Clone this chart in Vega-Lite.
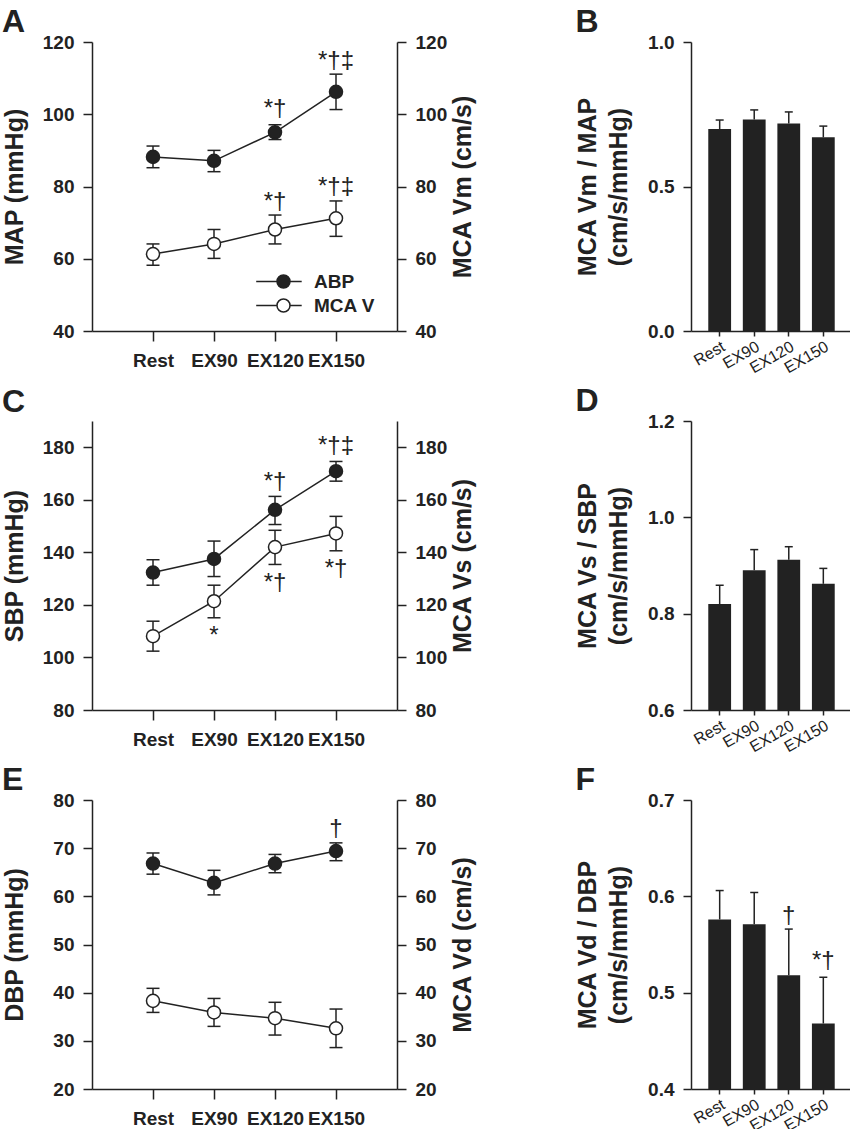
{
  "$schema": "https://vega.github.io/schema/vega-lite/v6.json",
  "padding": {"left": 2, "top": 6, "right": 0, "bottom": 0},
  "config": {
    "font": "Liberation Sans",
    "view": {"stroke": null},
    "axis": {
      "domainColor": "#222", "domainWidth": 1.5, "tickColor": "#222", "tickWidth": 1.5, "tickSize": 9,
      "labelFont": "Liberation Sans", "labelFontSize": 19, "labelFontWeight": "bold", "labelColor": "#222", "labelPadding": 9,
      "titleFont": "Liberation Sans", "titleFontSize": 25, "titleFontWeight": "bold", "titleColor": "#222",
      "grid": false
    },
    "title": {"anchor": "start", "frame": "bounds", "fontSize": 32, "fontWeight": "bold", "color": "#222", "font": "Liberation Sans", "offset": -6}
  },
  "datasets": {
    "lines": [
      {"panel": "A", "series": "ABP", "cond": "Rest", "mean": 88.2, "lo": 85.2, "hi": 91.2},
      {"panel": "A", "series": "ABP", "cond": "EX90", "mean": 87.1, "lo": 84.1, "hi": 90.0},
      {"panel": "A", "series": "ABP", "cond": "EX120", "mean": 95.0, "lo": 93.0, "hi": 97.1},
      {"panel": "A", "series": "ABP", "cond": "EX150", "mean": 106.2, "lo": 101.3, "hi": 111.1},
      {"panel": "A", "series": "MCA V", "cond": "Rest", "mean": 61.3, "lo": 58.2, "hi": 64.1},
      {"panel": "A", "series": "MCA V", "cond": "EX90", "mean": 64.1, "lo": 60.1, "hi": 68.1},
      {"panel": "A", "series": "MCA V", "cond": "EX120", "mean": 68.1, "lo": 64.1, "hi": 72.1},
      {"panel": "A", "series": "MCA V", "cond": "EX150", "mean": 71.2, "lo": 66.2, "hi": 76.0},
      {"panel": "C", "series": "ABP", "cond": "Rest", "mean": 132.3, "lo": 127.5, "hi": 137.2},
      {"panel": "C", "series": "ABP", "cond": "EX90", "mean": 137.5, "lo": 130.8, "hi": 144.3},
      {"panel": "C", "series": "ABP", "cond": "EX120", "mean": 156.2, "lo": 150.6, "hi": 161.3},
      {"panel": "C", "series": "ABP", "cond": "EX150", "mean": 170.9, "lo": 167.1, "hi": 174.6},
      {"panel": "C", "series": "MCA V", "cond": "Rest", "mean": 108.1, "lo": 102.4, "hi": 113.8},
      {"panel": "C", "series": "MCA V", "cond": "EX90", "mean": 121.4, "lo": 115.1, "hi": 127.5},
      {"panel": "C", "series": "MCA V", "cond": "EX120", "mean": 142.0, "lo": 135.4, "hi": 148.4},
      {"panel": "C", "series": "MCA V", "cond": "EX150", "mean": 147.2, "lo": 140.6, "hi": 153.7},
      {"panel": "E", "series": "ABP", "cond": "Rest", "mean": 66.8, "lo": 64.6, "hi": 69.0},
      {"panel": "E", "series": "ABP", "cond": "EX90", "mean": 62.8, "lo": 60.3, "hi": 65.4},
      {"panel": "E", "series": "ABP", "cond": "EX120", "mean": 66.8, "lo": 64.9, "hi": 68.7},
      {"panel": "E", "series": "ABP", "cond": "EX150", "mean": 69.4, "lo": 67.4, "hi": 71.1},
      {"panel": "E", "series": "MCA V", "cond": "Rest", "mean": 38.3, "lo": 35.9, "hi": 40.9},
      {"panel": "E", "series": "MCA V", "cond": "EX90", "mean": 35.9, "lo": 33.0, "hi": 38.8},
      {"panel": "E", "series": "MCA V", "cond": "EX120", "mean": 34.7, "lo": 31.2, "hi": 38.0},
      {"panel": "E", "series": "MCA V", "cond": "EX150", "mean": 32.6, "lo": 28.6, "hi": 36.6}
    ],
    "bars": [
      {"panel": "B", "cond": "Rest", "mean": 0.699, "hi": 0.730},
      {"panel": "B", "cond": "EX90", "mean": 0.732, "hi": 0.765},
      {"panel": "B", "cond": "EX120", "mean": 0.718, "hi": 0.758},
      {"panel": "B", "cond": "EX150", "mean": 0.670, "hi": 0.709},
      {"panel": "D", "cond": "Rest", "mean": 0.820, "hi": 0.859},
      {"panel": "D", "cond": "EX90", "mean": 0.890, "hi": 0.933},
      {"panel": "D", "cond": "EX120", "mean": 0.912, "hi": 0.939},
      {"panel": "D", "cond": "EX150", "mean": 0.862, "hi": 0.894},
      {"panel": "F", "cond": "Rest", "mean": 0.576, "hi": 0.606},
      {"panel": "F", "cond": "EX90", "mean": 0.571, "hi": 0.604},
      {"panel": "F", "cond": "EX120", "mean": 0.518, "hi": 0.566},
      {"panel": "F", "cond": "EX150", "mean": 0.468, "hi": 0.516}
    ],
    "ann": [
      {"panel": "A", "series": "ABP", "cond": "EX120", "y": 101.4, "label": "*†"},
      {"panel": "A", "series": "ABP", "cond": "EX150", "y": 114.7, "label": "*†‡"},
      {"panel": "A", "series": "MCA V", "cond": "EX120", "y": 75.8, "label": "*†"},
      {"panel": "A", "series": "MCA V", "cond": "EX150", "y": 79.9, "label": "*†‡"},
      {"panel": "C", "series": "ABP", "cond": "EX120", "y": 166.7, "label": "*†"},
      {"panel": "C", "series": "ABP", "cond": "EX150", "y": 180.4, "label": "*†‡"},
      {"panel": "C", "series": "MCA V", "cond": "EX90", "y": 108.0, "label": "*"},
      {"panel": "C", "series": "MCA V", "cond": "EX120", "y": 128.5, "label": "*†"},
      {"panel": "C", "series": "MCA V", "cond": "EX150", "y": 133.5, "label": "*†"},
      {"panel": "E", "series": "ABP", "cond": "EX150", "y": 74.0, "label": "†"},
      {"panel": "F", "series": "bar", "cond": "EX120", "y": 0.580, "label": "†"},
      {"panel": "F", "series": "bar", "cond": "EX150", "y": 0.533, "label": "*†"}
    ]
  },
  "columns": 2,
  "spacing": {"row": 9, "column": 100},
  "resolve": {"scale": {"x": "independent", "y": "independent", "fill": "independent"}, "legend": {"fill": "independent"}},
  "concat": [
    {
      "width": 305, "height": 289,
      "title": {"text": "A"},
      "encoding": {"x": {"field": "cond", "type": "ordinal", "sort": ["Rest", "EX90", "EX120", "EX150"], "scale": {"type": "point", "padding": 1}, "axis": {"title": null, "labelAngle": 0, "tickSize": 10, "labelPadding": 10}}},
      "layer": [
        {"layer": [
          {"data": {"name": "lines"}, "transform": [{"filter": "datum.panel === 'A' && datum.series === 'ABP'"}],
           "mark": {"type": "rule", "color": "#222", "strokeWidth": 1.5},
           "encoding": {"y": {"field": "lo", "type": "quantitative", "title": "MAP (mmHg)", "scale": {"domain": [40, 120], "nice": false, "zero": false}, "axis": {"values": [40, 60, 80, 100, 120], "minExtent": 52, "titlePadding": 13}}, "y2": {"field": "hi"}}},
          {"data": {"name": "lines"}, "transform": [{"filter": "datum.panel === 'A' && datum.series === 'ABP'"}],
           "mark": {"type": "tick", "orient": "horizontal", "size": 13, "thickness": 1.5, "color": "#222", "opacity": 1},
           "encoding": {"y": {"field": "lo", "type": "quantitative", "title": "MAP (mmHg)"}}},
          {"data": {"name": "lines"}, "transform": [{"filter": "datum.panel === 'A' && datum.series === 'ABP'"}],
           "mark": {"type": "tick", "orient": "horizontal", "size": 13, "thickness": 1.5, "color": "#222", "opacity": 1},
           "encoding": {"y": {"field": "hi", "type": "quantitative", "title": "MAP (mmHg)"}}},
          {"data": {"name": "lines"}, "transform": [{"filter": "datum.panel === 'A' && datum.series === 'ABP'"}],
           "mark": {"type": "line", "color": "#222", "strokeWidth": 1.5},
           "encoding": {"y": {"field": "mean", "type": "quantitative", "title": "MAP (mmHg)"}, "order": {"value": null}}},
          {"data": {"name": "lines"}, "transform": [{"filter": "datum.panel === 'A' && datum.series === 'ABP'"}],
           "mark": {"type": "circle", "size": 170, "stroke": "#222", "strokeWidth": 1.5, "opacity": 1},
           "encoding": {"y": {"field": "mean", "type": "quantitative", "title": "MAP (mmHg)"},
             "fill": {"field": "series", "type": "nominal", "scale": {"domain": ["ABP", "MCA V"], "range": ["#222222", "#ffffff"]},
               "legend": {"title": null, "orient": "none", "legendX": 182, "legendY": 230, "symbolType": "M-4.2,0L-1,0M1,0L2.8,0M1,0A1,1,0,1,1,-1,0A1,1,0,1,1,1,0Z", "symbolSize": 169, "symbolStrokeColor": "#222", "symbolStrokeWidth": 1.5, "labelFont": "Liberation Sans", "labelFontSize": 19, "labelFontWeight": "bold", "labelColor": "#222", "labelOffset": 21, "rowPadding": 4}}}},
          {"data": {"name": "ann"}, "transform": [{"filter": "datum.panel === 'A' && datum.series === 'ABP'"}],
           "mark": {"type": "text", "fontSize": 24, "baseline": "middle", "align": "center", "color": "#222"},
           "encoding": {"y": {"field": "y", "type": "quantitative", "title": "MAP (mmHg)"}, "text": {"field": "label"}}}
        ]},
        {"layer": [
          {"data": {"name": "lines"}, "transform": [{"filter": "datum.panel === 'A' && datum.series === 'MCA V'"}],
           "mark": {"type": "rule", "color": "#222", "strokeWidth": 1.5},
           "encoding": {"y": {"field": "lo", "type": "quantitative", "title": "MCA Vm (cm/s)", "scale": {"domain": [40, 120], "nice": false, "zero": false}, "axis": {"orient": "right", "values": [40, 60, 80, 100, 120], "minExtent": 52, "titlePadding": 1, "titleAngle": 270, "titleBaseline": "top"}}, "y2": {"field": "hi"}}},
          {"data": {"name": "lines"}, "transform": [{"filter": "datum.panel === 'A' && datum.series === 'MCA V'"}],
           "mark": {"type": "tick", "orient": "horizontal", "size": 13, "thickness": 1.5, "color": "#222", "opacity": 1},
           "encoding": {"y": {"field": "lo", "type": "quantitative", "title": "MCA Vm (cm/s)"}}},
          {"data": {"name": "lines"}, "transform": [{"filter": "datum.panel === 'A' && datum.series === 'MCA V'"}],
           "mark": {"type": "tick", "orient": "horizontal", "size": 13, "thickness": 1.5, "color": "#222", "opacity": 1},
           "encoding": {"y": {"field": "hi", "type": "quantitative", "title": "MCA Vm (cm/s)"}}},
          {"data": {"name": "lines"}, "transform": [{"filter": "datum.panel === 'A' && datum.series === 'MCA V'"}],
           "mark": {"type": "line", "color": "#222", "strokeWidth": 1.5},
           "encoding": {"y": {"field": "mean", "type": "quantitative", "title": "MCA Vm (cm/s)"}, "order": {"value": null}}},
          {"data": {"name": "lines"}, "transform": [{"filter": "datum.panel === 'A' && datum.series === 'MCA V'"}],
           "mark": {"type": "circle", "size": 170, "stroke": "#222", "strokeWidth": 1.5, "opacity": 1},
           "encoding": {"y": {"field": "mean", "type": "quantitative", "title": "MCA Vm (cm/s)"},
             "fill": {"field": "series", "type": "nominal", "scale": {"domain": ["ABP", "MCA V"], "range": ["#222222", "#ffffff"]}}}},
          {"data": {"name": "ann"}, "transform": [{"filter": "datum.panel === 'A' && datum.series === 'MCA V'"}],
           "mark": {"type": "text", "fontSize": 24, "baseline": "middle", "align": "center", "color": "#222"},
           "encoding": {"y": {"field": "y", "type": "quantitative", "title": "MCA Vm (cm/s)"}, "text": {"field": "label"}}}
        ]}
      ],
      "resolve": {"scale": {"y": "independent"}}
    },
    {
      "width": 161, "height": 289,
      "title": {"text": "B"},
      "data": {"name": "bars"},
      "transform": [{"filter": "datum.panel === 'B'"}],
      "encoding": {"x": {"field": "cond", "type": "ordinal", "sort": ["Rest", "EX90", "EX120", "EX150"], "scale": {"paddingInner": 0.34, "paddingOuter": 0.5}, "axis": {"title": null, "labelAngle": -30, "labelAlign": "right", "labelBaseline": "top", "labelFontWeight": "normal", "labelFontSize": 16, "tickSize": 5, "labelPadding": 2}}},
      "layer": [
        {"mark": {"type": "rule", "color": "#222", "strokeWidth": 1.5},
         "encoding": {"y": {"field": "mean", "type": "quantitative", "title": ["MCA Vm / MAP", "(cm/s/mmHg)"], "scale": {"domain": [0, 1], "nice": false, "zero": false}, "axis": {"titleLineHeight": 31, "values": [0, 0.5, 1], "format": ".1f", "minExtent": 42, "titlePadding": 16, "tickSize": 8}}, "y2": {"field": "hi"}}},
        {"mark": {"type": "tick", "orient": "horizontal", "size": 8, "thickness": 1.5, "color": "#222", "opacity": 1},
         "encoding": {"y": {"field": "hi", "type": "quantitative", "title": ["MCA Vm / MAP", "(cm/s/mmHg)"]}}},
        {"mark": {"type": "bar", "color": "#222", "clip": true},
         "encoding": {"y": {"field": "mean", "type": "quantitative", "title": ["MCA Vm / MAP", "(cm/s/mmHg)"]}}}
      ]
    },
    {
      "width": 305, "height": 289,
      "title": {"text": "C", "offset": 2},
      "encoding": {"x": {"field": "cond", "type": "ordinal", "sort": ["Rest", "EX90", "EX120", "EX150"], "scale": {"type": "point", "padding": 1}, "axis": {"title": null, "labelAngle": 0, "tickSize": 10, "labelPadding": 10}}},
      "layer": [
        {"layer": [
          {"data": {"name": "lines"}, "transform": [{"filter": "datum.panel === 'C' && datum.series === 'ABP'"}],
           "mark": {"type": "rule", "color": "#222", "strokeWidth": 1.5},
           "encoding": {"y": {"field": "lo", "type": "quantitative", "title": "SBP (mmHg)", "scale": {"domain": [80, 190], "nice": false, "zero": false}, "axis": {"values": [80, 100, 120, 140, 160, 180], "minExtent": 52, "titlePadding": 13}}, "y2": {"field": "hi"}}},
          {"data": {"name": "lines"}, "transform": [{"filter": "datum.panel === 'C' && datum.series === 'ABP'"}],
           "mark": {"type": "tick", "orient": "horizontal", "size": 13, "thickness": 1.5, "color": "#222", "opacity": 1},
           "encoding": {"y": {"field": "lo", "type": "quantitative", "title": "SBP (mmHg)"}}},
          {"data": {"name": "lines"}, "transform": [{"filter": "datum.panel === 'C' && datum.series === 'ABP'"}],
           "mark": {"type": "tick", "orient": "horizontal", "size": 13, "thickness": 1.5, "color": "#222", "opacity": 1},
           "encoding": {"y": {"field": "hi", "type": "quantitative", "title": "SBP (mmHg)"}}},
          {"data": {"name": "lines"}, "transform": [{"filter": "datum.panel === 'C' && datum.series === 'ABP'"}],
           "mark": {"type": "line", "color": "#222", "strokeWidth": 1.5},
           "encoding": {"y": {"field": "mean", "type": "quantitative", "title": "SBP (mmHg)"}, "order": {"value": null}}},
          {"data": {"name": "lines"}, "transform": [{"filter": "datum.panel === 'C' && datum.series === 'ABP'"}],
           "mark": {"type": "circle", "size": 170, "stroke": "#222", "strokeWidth": 1.5, "opacity": 1},
           "encoding": {"y": {"field": "mean", "type": "quantitative", "title": "SBP (mmHg)"},
             "fill": {"field": "series", "type": "nominal", "scale": {"domain": ["ABP", "MCA V"], "range": ["#222222", "#ffffff"]}, "legend": null}}},
          {"data": {"name": "ann"}, "transform": [{"filter": "datum.panel === 'C' && datum.series === 'ABP'"}],
           "mark": {"type": "text", "fontSize": 24, "baseline": "middle", "align": "center", "color": "#222"},
           "encoding": {"y": {"field": "y", "type": "quantitative", "title": "SBP (mmHg)"}, "text": {"field": "label"}}}
        ]},
        {"layer": [
          {"data": {"name": "lines"}, "transform": [{"filter": "datum.panel === 'C' && datum.series === 'MCA V'"}],
           "mark": {"type": "rule", "color": "#222", "strokeWidth": 1.5},
           "encoding": {"y": {"field": "lo", "type": "quantitative", "title": "MCA Vs (cm/s)", "scale": {"domain": [80, 190], "nice": false, "zero": false}, "axis": {"orient": "right", "values": [80, 100, 120, 140, 160, 180], "minExtent": 52, "titlePadding": 1, "titleAngle": 270, "titleBaseline": "top"}}, "y2": {"field": "hi"}}},
          {"data": {"name": "lines"}, "transform": [{"filter": "datum.panel === 'C' && datum.series === 'MCA V'"}],
           "mark": {"type": "tick", "orient": "horizontal", "size": 13, "thickness": 1.5, "color": "#222", "opacity": 1},
           "encoding": {"y": {"field": "lo", "type": "quantitative", "title": "MCA Vs (cm/s)"}}},
          {"data": {"name": "lines"}, "transform": [{"filter": "datum.panel === 'C' && datum.series === 'MCA V'"}],
           "mark": {"type": "tick", "orient": "horizontal", "size": 13, "thickness": 1.5, "color": "#222", "opacity": 1},
           "encoding": {"y": {"field": "hi", "type": "quantitative", "title": "MCA Vs (cm/s)"}}},
          {"data": {"name": "lines"}, "transform": [{"filter": "datum.panel === 'C' && datum.series === 'MCA V'"}],
           "mark": {"type": "line", "color": "#222", "strokeWidth": 1.5},
           "encoding": {"y": {"field": "mean", "type": "quantitative", "title": "MCA Vs (cm/s)"}, "order": {"value": null}}},
          {"data": {"name": "lines"}, "transform": [{"filter": "datum.panel === 'C' && datum.series === 'MCA V'"}],
           "mark": {"type": "circle", "size": 170, "stroke": "#222", "strokeWidth": 1.5, "opacity": 1},
           "encoding": {"y": {"field": "mean", "type": "quantitative", "title": "MCA Vs (cm/s)"},
             "fill": {"field": "series", "type": "nominal", "scale": {"domain": ["ABP", "MCA V"], "range": ["#222222", "#ffffff"]}, "legend": null}}},
          {"data": {"name": "ann"}, "transform": [{"filter": "datum.panel === 'C' && datum.series === 'MCA V'"}],
           "mark": {"type": "text", "fontSize": 24, "baseline": "middle", "align": "center", "color": "#222"},
           "encoding": {"y": {"field": "y", "type": "quantitative", "title": "MCA Vs (cm/s)"}, "text": {"field": "label"}}}
        ]}
      ],
      "resolve": {"scale": {"y": "independent"}}
    },
    {
      "width": 161, "height": 289,
      "title": {"text": "D"},
      "data": {"name": "bars"},
      "transform": [{"filter": "datum.panel === 'D'"}],
      "encoding": {"x": {"field": "cond", "type": "ordinal", "sort": ["Rest", "EX90", "EX120", "EX150"], "scale": {"paddingInner": 0.34, "paddingOuter": 0.5}, "axis": {"title": null, "labelAngle": -30, "labelAlign": "right", "labelBaseline": "top", "labelFontWeight": "normal", "labelFontSize": 16, "tickSize": 5, "labelPadding": 2}}},
      "layer": [
        {"mark": {"type": "rule", "color": "#222", "strokeWidth": 1.5},
         "encoding": {"y": {"field": "mean", "type": "quantitative", "title": ["MCA Vs / SBP", "(cm/s/mmHg)"], "scale": {"domain": [0.6, 1.2], "nice": false, "zero": false}, "axis": {"titleLineHeight": 31, "values": [0.6, 0.8, 1.0, 1.2], "format": ".1f", "minExtent": 42, "titlePadding": 16, "tickSize": 8}}, "y2": {"field": "hi"}}},
        {"mark": {"type": "tick", "orient": "horizontal", "size": 8, "thickness": 1.5, "color": "#222", "opacity": 1},
         "encoding": {"y": {"field": "hi", "type": "quantitative", "title": ["MCA Vs / SBP", "(cm/s/mmHg)"]}}},
        {"mark": {"type": "bar", "color": "#222", "clip": true},
         "encoding": {"y": {"field": "mean", "type": "quantitative", "title": ["MCA Vs / SBP", "(cm/s/mmHg)"]}}}
      ]
    },
    {
      "width": 305, "height": 289,
      "title": {"text": "E"},
      "encoding": {"x": {"field": "cond", "type": "ordinal", "sort": ["Rest", "EX90", "EX120", "EX150"], "scale": {"type": "point", "padding": 1}, "axis": {"title": null, "labelAngle": 0, "tickSize": 10, "labelPadding": 10}}},
      "layer": [
        {"layer": [
          {"data": {"name": "lines"}, "transform": [{"filter": "datum.panel === 'E' && datum.series === 'ABP'"}],
           "mark": {"type": "rule", "color": "#222", "strokeWidth": 1.5},
           "encoding": {"y": {"field": "lo", "type": "quantitative", "title": "DBP (mmHg)", "scale": {"domain": [20, 80], "nice": false, "zero": false}, "axis": {"values": [20, 30, 40, 50, 60, 70, 80], "minExtent": 52, "titlePadding": 13}}, "y2": {"field": "hi"}}},
          {"data": {"name": "lines"}, "transform": [{"filter": "datum.panel === 'E' && datum.series === 'ABP'"}],
           "mark": {"type": "tick", "orient": "horizontal", "size": 13, "thickness": 1.5, "color": "#222", "opacity": 1},
           "encoding": {"y": {"field": "lo", "type": "quantitative", "title": "DBP (mmHg)"}}},
          {"data": {"name": "lines"}, "transform": [{"filter": "datum.panel === 'E' && datum.series === 'ABP'"}],
           "mark": {"type": "tick", "orient": "horizontal", "size": 13, "thickness": 1.5, "color": "#222", "opacity": 1},
           "encoding": {"y": {"field": "hi", "type": "quantitative", "title": "DBP (mmHg)"}}},
          {"data": {"name": "lines"}, "transform": [{"filter": "datum.panel === 'E' && datum.series === 'ABP'"}],
           "mark": {"type": "line", "color": "#222", "strokeWidth": 1.5},
           "encoding": {"y": {"field": "mean", "type": "quantitative", "title": "DBP (mmHg)"}, "order": {"value": null}}},
          {"data": {"name": "lines"}, "transform": [{"filter": "datum.panel === 'E' && datum.series === 'ABP'"}],
           "mark": {"type": "circle", "size": 170, "stroke": "#222", "strokeWidth": 1.5, "opacity": 1},
           "encoding": {"y": {"field": "mean", "type": "quantitative", "title": "DBP (mmHg)"},
             "fill": {"field": "series", "type": "nominal", "scale": {"domain": ["ABP", "MCA V"], "range": ["#222222", "#ffffff"]}, "legend": null}}},
          {"data": {"name": "ann"}, "transform": [{"filter": "datum.panel === 'E' && datum.series === 'ABP'"}],
           "mark": {"type": "text", "fontSize": 24, "baseline": "middle", "align": "center", "color": "#222"},
           "encoding": {"y": {"field": "y", "type": "quantitative", "title": "DBP (mmHg)"}, "text": {"field": "label"}}}
        ]},
        {"layer": [
          {"data": {"name": "lines"}, "transform": [{"filter": "datum.panel === 'E' && datum.series === 'MCA V'"}],
           "mark": {"type": "rule", "color": "#222", "strokeWidth": 1.5},
           "encoding": {"y": {"field": "lo", "type": "quantitative", "title": "MCA Vd (cm/s)", "scale": {"domain": [20, 80], "nice": false, "zero": false}, "axis": {"orient": "right", "values": [20, 30, 40, 50, 60, 70, 80], "minExtent": 52, "titlePadding": 1, "titleAngle": 270, "titleBaseline": "top"}}, "y2": {"field": "hi"}}},
          {"data": {"name": "lines"}, "transform": [{"filter": "datum.panel === 'E' && datum.series === 'MCA V'"}],
           "mark": {"type": "tick", "orient": "horizontal", "size": 13, "thickness": 1.5, "color": "#222", "opacity": 1},
           "encoding": {"y": {"field": "lo", "type": "quantitative", "title": "MCA Vd (cm/s)"}}},
          {"data": {"name": "lines"}, "transform": [{"filter": "datum.panel === 'E' && datum.series === 'MCA V'"}],
           "mark": {"type": "tick", "orient": "horizontal", "size": 13, "thickness": 1.5, "color": "#222", "opacity": 1},
           "encoding": {"y": {"field": "hi", "type": "quantitative", "title": "MCA Vd (cm/s)"}}},
          {"data": {"name": "lines"}, "transform": [{"filter": "datum.panel === 'E' && datum.series === 'MCA V'"}],
           "mark": {"type": "line", "color": "#222", "strokeWidth": 1.5},
           "encoding": {"y": {"field": "mean", "type": "quantitative", "title": "MCA Vd (cm/s)"}, "order": {"value": null}}},
          {"data": {"name": "lines"}, "transform": [{"filter": "datum.panel === 'E' && datum.series === 'MCA V'"}],
           "mark": {"type": "circle", "size": 170, "stroke": "#222", "strokeWidth": 1.5, "opacity": 1},
           "encoding": {"y": {"field": "mean", "type": "quantitative", "title": "MCA Vd (cm/s)"},
             "fill": {"field": "series", "type": "nominal", "scale": {"domain": ["ABP", "MCA V"], "range": ["#222222", "#ffffff"]}, "legend": null}}}
        ]}
      ],
      "resolve": {"scale": {"y": "independent"}}
    },
    {
      "width": 161, "height": 289,
      "title": {"text": "F"},
      "encoding": {"x": {"field": "cond", "type": "ordinal", "sort": ["Rest", "EX90", "EX120", "EX150"], "scale": {"paddingInner": 0.34, "paddingOuter": 0.5}, "axis": {"title": null, "labelAngle": -30, "labelAlign": "right", "labelBaseline": "top", "labelFontWeight": "normal", "labelFontSize": 16, "tickSize": 5, "labelPadding": 2}}},
      "layer": [
        {"data": {"name": "bars"}, "transform": [{"filter": "datum.panel === 'F'"}],
         "mark": {"type": "rule", "color": "#222", "strokeWidth": 1.5},
         "encoding": {"y": {"field": "mean", "type": "quantitative", "title": ["MCA Vd / DBP", "(cm/s/mmHg)"], "scale": {"domain": [0.4, 0.7], "nice": false, "zero": false}, "axis": {"titleLineHeight": 31, "values": [0.4, 0.5, 0.6, 0.7], "format": ".1f", "minExtent": 42, "titlePadding": 16, "tickSize": 8}}, "y2": {"field": "hi"}}},
        {"data": {"name": "bars"}, "transform": [{"filter": "datum.panel === 'F'"}],
         "mark": {"type": "tick", "orient": "horizontal", "size": 8, "thickness": 1.5, "color": "#222", "opacity": 1},
         "encoding": {"y": {"field": "hi", "type": "quantitative", "title": ["MCA Vd / DBP", "(cm/s/mmHg)"]}}},
        {"data": {"name": "bars"}, "transform": [{"filter": "datum.panel === 'F'"}],
         "mark": {"type": "bar", "color": "#222", "clip": true},
         "encoding": {"y": {"field": "mean", "type": "quantitative", "title": ["MCA Vd / DBP", "(cm/s/mmHg)"]}}},
        {"data": {"name": "ann"}, "transform": [{"filter": "datum.panel === 'F'"}],
         "mark": {"type": "text", "fontSize": 24, "baseline": "middle", "align": "center", "color": "#222"},
         "encoding": {"y": {"field": "y", "type": "quantitative", "title": ["MCA Vd / DBP", "(cm/s/mmHg)"]}, "text": {"field": "label"}}}
      ]
    }
  ]
}
